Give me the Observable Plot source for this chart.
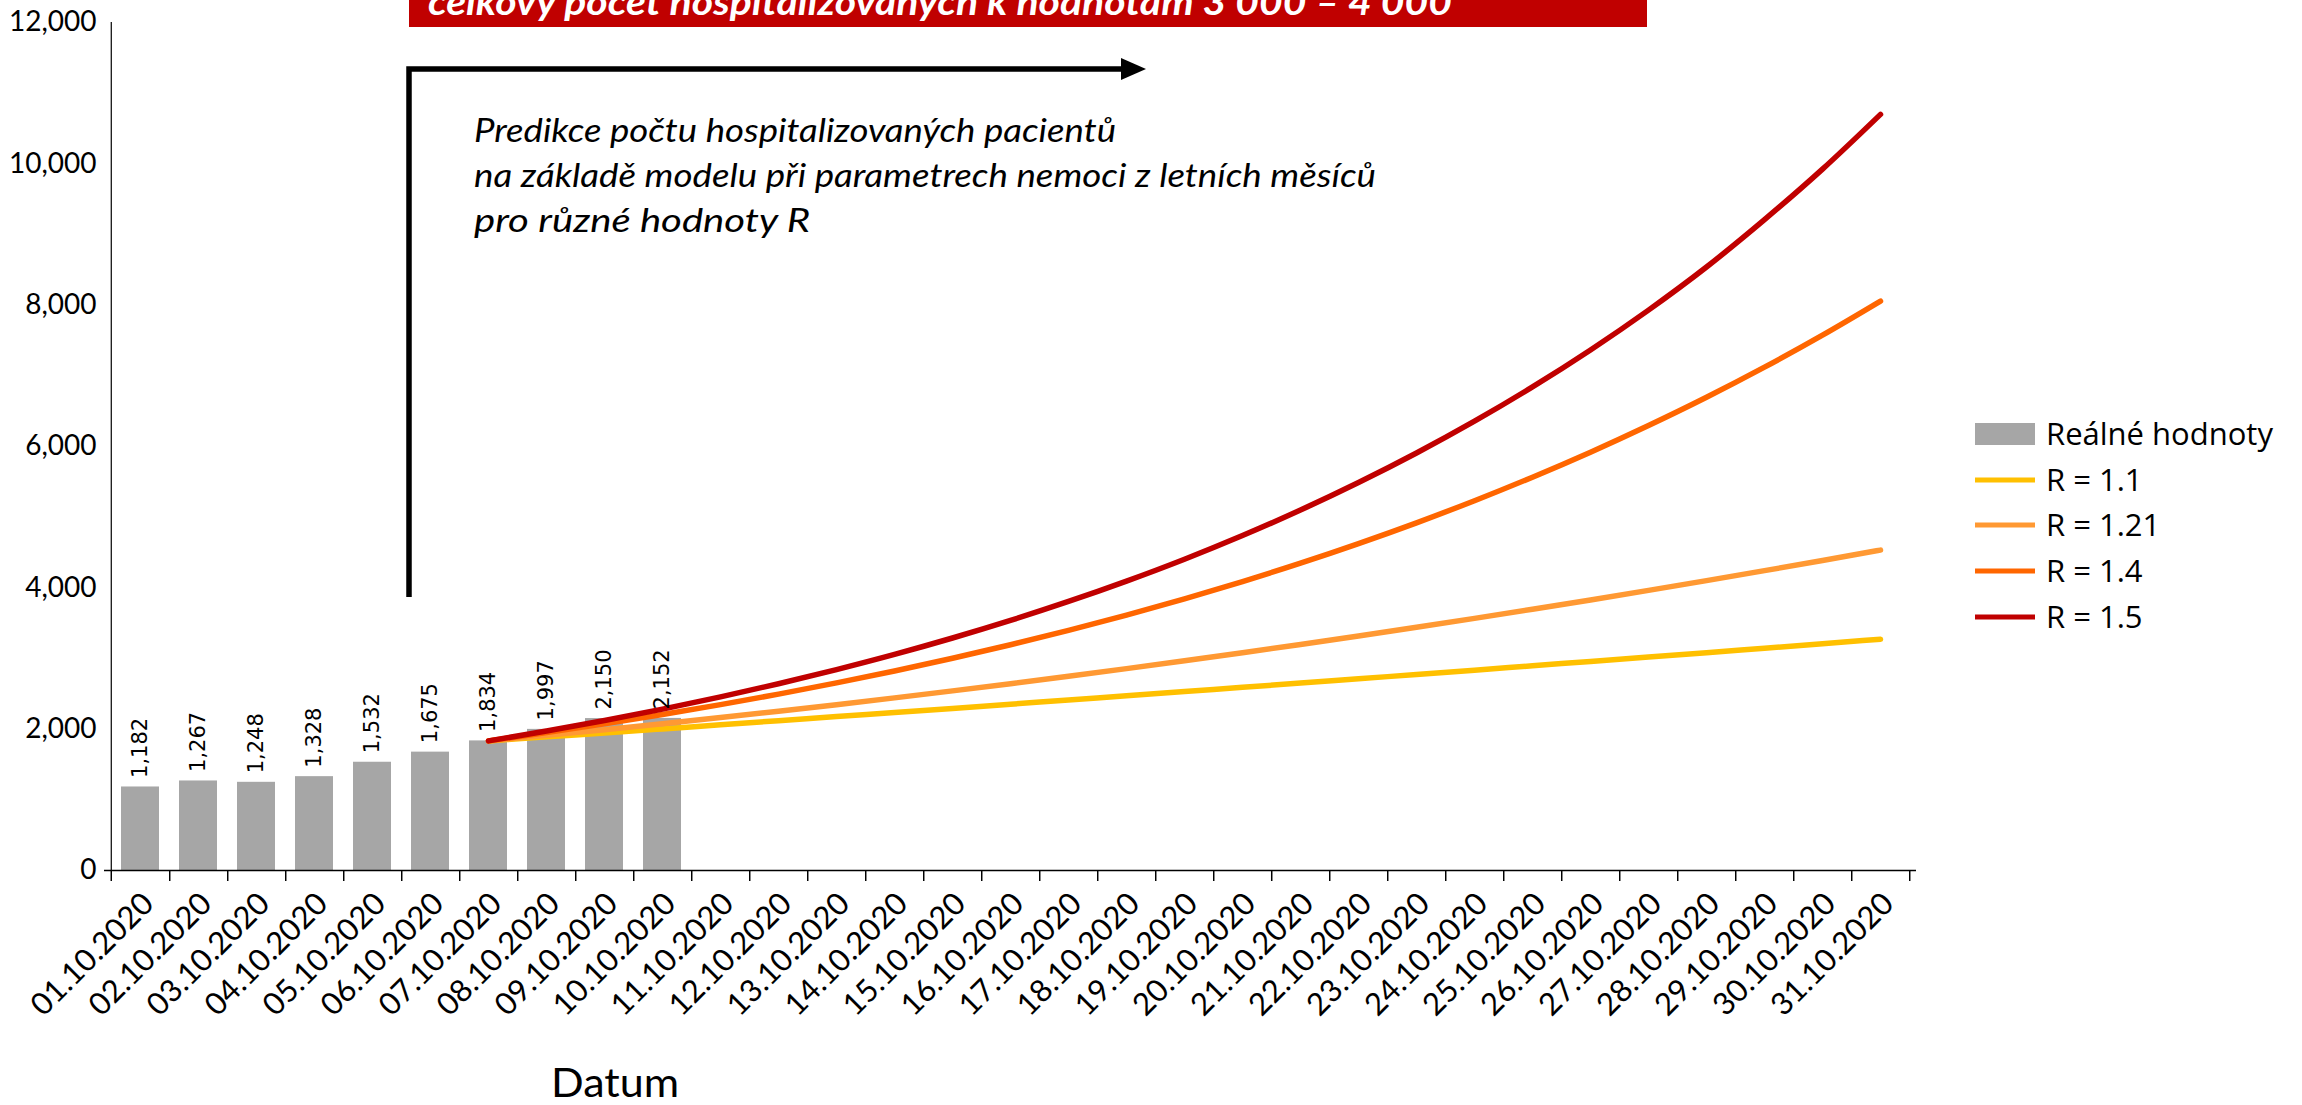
<!DOCTYPE html>
<html><head><meta charset="utf-8">
<script src="https://cdn.jsdelivr.net/npm/d3@7"></script>
<script src="https://cdn.jsdelivr.net/npm/@observablehq/plot@0.6"></script>
<style>
html,body{margin:0;padding:0;background:#fff;overflow:hidden;}
#wrap{position:relative;width:2302px;height:1105px;}
#wrap > svg{position:absolute;left:0;top:0;}
</style></head>
<body><div id="wrap"></div>
<script>
// ---- data ----
const dates = ["01.10.2020","02.10.2020","03.10.2020","04.10.2020","05.10.2020","06.10.2020","07.10.2020","08.10.2020","09.10.2020","10.10.2020","11.10.2020","12.10.2020","13.10.2020","14.10.2020","15.10.2020","16.10.2020","17.10.2020","18.10.2020","19.10.2020","20.10.2020","21.10.2020","22.10.2020","23.10.2020","24.10.2020","25.10.2020","26.10.2020","27.10.2020","28.10.2020","29.10.2020","30.10.2020","31.10.2020"];
const realDates = ["01.10.2020","02.10.2020","03.10.2020","04.10.2020","05.10.2020","06.10.2020","07.10.2020","08.10.2020","09.10.2020","10.10.2020"];
const realValues = [1182,1267,1248,1328,1532,1675,1834,1997,2150,2152];
const predDates = ["07.10.2020","08.10.2020","09.10.2020","10.10.2020","11.10.2020","12.10.2020","13.10.2020","14.10.2020","15.10.2020","16.10.2020","17.10.2020","18.10.2020","19.10.2020","20.10.2020","21.10.2020","22.10.2020","23.10.2020","24.10.2020","25.10.2020","26.10.2020","27.10.2020","28.10.2020","29.10.2020","30.10.2020","31.10.2020"];
const r11  = [1834,1891,1947,2004,2062,2120,2178,2236,2294,2353,2413,2472,2532,2592,2652,2713,2774,2835,2897,2959,3021,3083,3146,3209,3273];
const r121 = [1834,1912,1993,2077,2164,2254,2347,2443,2542,2644,2749,2857,2968,3082,3199,3319,3442,3568,3697,3829,3964,4102,4243,4387,4534];
const r14  = [1834,1951,2075,2207,2347,2496,2655,2824,3004,3195,3398,3614,3844,4089,4349,4626,4920,5233,5566,5920,6297,6697,7123,7576,8058];
const r15  = [1834,1973,2123,2284,2457,2643,2843,3058,3290,3539,3807,4095,4405,4740,5101,5490,5908,6358,6843,7366,7930,8540,9210,9925,10700];
const seriesNames = ["R = 1.1","R = 1.21","R = 1.4","R = 1.5"];
const seriesColors = ["#FFC000","#FF9933","#FF6600","#C00000"];
const barName = "Reálné hodnoty";
const barColor = "#A6A6A6";
const yTicks = [0,2000,4000,6000,8000,10000,12000];
const xTitle = "Datum";
const bannerText = "celkový počet hospitalizovaných k hodnotám 3 000 – 4 000";
const noteLines = ["Predikce počtu hospitalizovaných pacientů","na základě modelu při parametrech nemoci z letních měsíců","pro různé hodnoty R"];

// ---- tables ----
const bars = realDates.map((d,i)=>({date:d, value:realValues[i]}));
const seriesValues = [r11,r121,r14,r15];
const predRows = seriesNames.flatMap((name,si)=>predDates.map((d,i)=>({date:d, value:seriesValues[si][i], series:name})));

// ---- layout ----
const W=2302, H=1105, ML=104, MR=W-1916, MT=22, MB=H-870;
const step = (W-ML-MR)/dates.length;
const fmt = d3.format(",");

const plot = Plot.plot({
  width:W, height:H, marginLeft:ML, marginRight:MR, marginTop:MT, marginBottom:MB,
  style:{fontFamily:"Lato, sans-serif", background:"transparent", color:"#000", overflow:"visible"},
  x:{type:"band", domain:dates, paddingInner:0.34, paddingOuter:0.17, label:null},
  y:{domain:[0,12000], label:null},
  color:{domain:seriesNames, range:seriesColors},
  marks:[
    Plot.barY(bars, {x:"date", y:"value", fill:barColor}),
    Plot.ruleY([0], {stroke:"#000", strokeWidth:1.6}),
    Plot.ruleX([dates[0]], {dx:-step/2, stroke:"#000", strokeWidth:1.2}),
    Plot.axisY({ticks:yTicks, tickSize:0, tickPadding:8, tickFormat:fmt, fontSize:28, label:null}),
    Plot.axisX({ticks:dates, tickSize:11, dx:step/2, tickFormat:()=>"", label:null, strokeWidth:1.5}),
    Plot.axisX({ticks:[dates[0]], tickSize:11, dx:-step/2, tickFormat:()=>"", label:null, strokeWidth:1.5}),
    Plot.axisX({ticks:dates, tickSize:0, tickPadding:28, dx:8, tickRotate:-45, fontSize:31, label:null}),
    Plot.line(predRows, {x:"date", y:"value", stroke:"series", strokeWidth:5.5, curve:"monotone-x"}),
    Plot.text(bars, {x:"date", y:"value", text:d=>fmt(d.value), rotate:-90, textAnchor:"start", dy:-9, fontSize:21, fontFamily:"DejaVu Sans, sans-serif", fill:"#000"})
  ]
});
document.getElementById("wrap").appendChild(plot);

// ---- annotations & legend overlay ----
const ov = d3.select("#wrap").append("svg").attr("width",W).attr("height",H).style("pointer-events","none");
// banner (its upper part lies above the picture, as in the source)
ov.append("rect").attr("x",409).attr("y",-60).attr("width",1238).attr("height",87).attr("fill","#C00000");
ov.append("text").attr("x",428).attr("y",15).text(bannerText)
  .attr("fill","#fff").attr("font-family","Lato, sans-serif").attr("font-weight","bold").attr("font-style","italic")
  .attr("font-size",36).attr("textLength",1024).attr("lengthAdjust","spacingAndGlyphs");
// bracket arrow
ov.append("path").attr("d","M409,597V69H1124").attr("fill","none").attr("stroke","#000").attr("stroke-width",5.5).attr("stroke-linejoin","miter");
ov.append("path").attr("d","M1121,58L1146,69L1121,80Z").attr("fill","#000");
// note text
const noteLens=[642,902,336];
noteLines.forEach((t,i)=>{
  ov.append("text").attr("x",474).attr("y",142+i*45).text(t)
    .attr("font-family","Lato, sans-serif").attr("font-style","italic").attr("font-size",32).attr("fill","#000")
    .attr("textLength",noteLens[i]).attr("lengthAdjust","spacingAndGlyphs");
});
// x title
ov.append("text").attr("x",615).attr("y",1097).attr("text-anchor","middle").text(xTitle)
  .attr("font-family","Lato, sans-serif").attr("font-size",40).attr("fill","#000")
  .attr("textLength",128).attr("lengthAdjust","spacingAndGlyphs");
// legend
const lg = ov.append("g").attr("font-family","Open Sans, sans-serif").attr("font-size",31).attr("fill","#000");
const rowY = [434,480,525,571,617];
lg.append("rect").attr("x",1975).attr("y",rowY[0]-11).attr("width",60).attr("height",22).attr("fill",barColor);
lg.append("text").attr("x",2046).attr("y",rowY[0]+11).text(barName);
seriesNames.forEach((n,i)=>{
  lg.append("rect").attr("x",1975).attr("y",rowY[i+1]-2.5).attr("width",60).attr("height",5).attr("fill",seriesColors[i]);
  lg.append("text").attr("x",2046).attr("y",rowY[i+1]+11).text(n);
});
</script>
</body></html>
